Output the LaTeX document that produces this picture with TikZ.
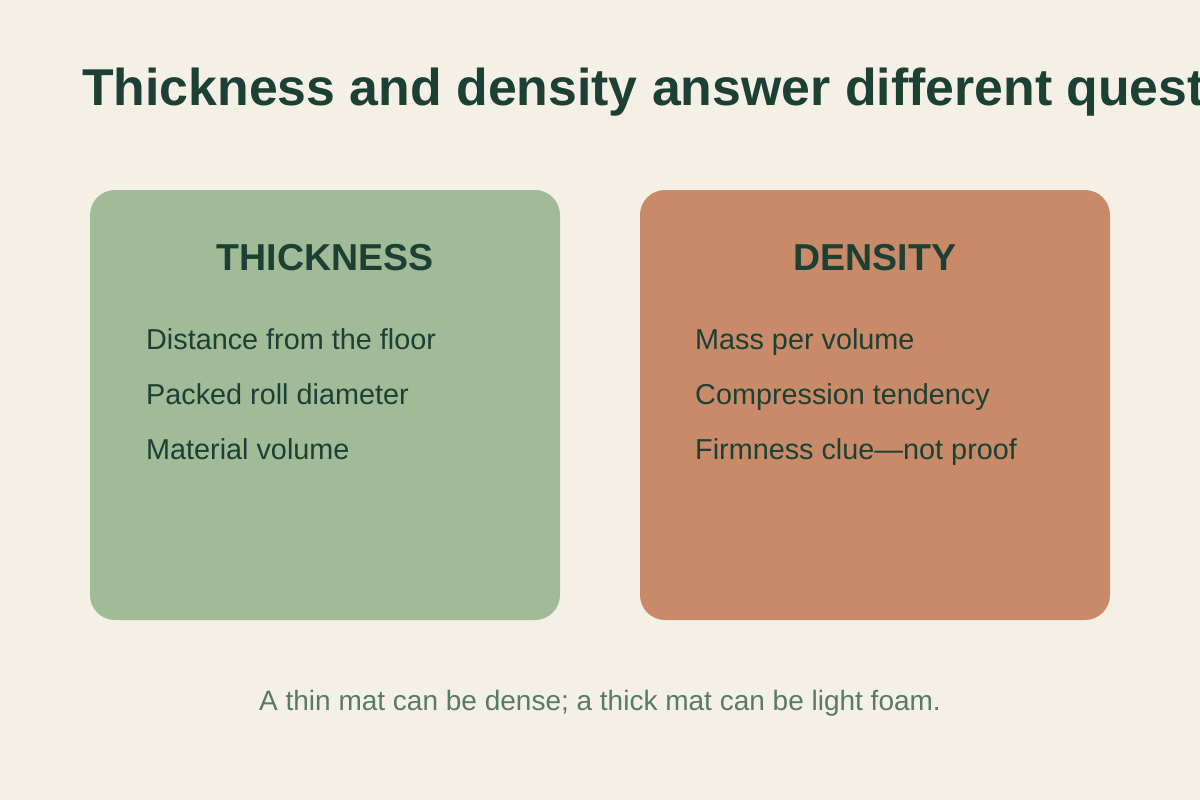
\documentclass[tikz,border=0pt]{standalone}
\usepackage{fontspec}
\setmainfont{Liberation Sans}
\definecolor{bg}{HTML}{F5F0E6}
\definecolor{ink}{HTML}{1C4033}
\definecolor{greenbox}{HTML}{A1BA98}
\definecolor{orangebox}{HTML}{C98A6A}
\definecolor{foot}{HTML}{587A68}
\tikzset{
  card/.style={rounded corners=25pt, inner sep=0pt},
  head/.style={anchor=base, text=ink, font=\fontsize{37.5}{40}\selectfont\bfseries, inner sep=0pt},
  item/.style={anchor=base west, text=ink, font=\fontsize{28.8}{32}\selectfont, inner sep=0pt},
}
\begin{document}
\begin{tikzpicture}[x=1pt,y=-1pt]
\useasboundingbox (0,0) rectangle (1200,800);
\clip (0,0) rectangle (1200,800);
\fill[bg] (0,0) rectangle (1200,800);
\node[anchor=base west, inner sep=0pt, text=ink, font=\fontsize{51.8}{56}\selectfont\bfseries] (title) at (82,105) {Thickness and density answer different questions};
\fill[greenbox, card] (90,190) rectangle (560,620);
\coordinate (lbox) at (325,190);
\fill[orangebox, card] (640,190) rectangle (1110,620);
\coordinate (rbox) at (875,190);
\node[head] (lh) at (325,270) {THICKNESS};
\node[item] (l1) at (146,349) {Distance from the floor};
\node[item] (l2) at (146,404) {Packed roll diameter};
\node[item] (l3) at (146,459) {Material volume};
\node[head] (rh) at (875,270) {DENSITY};
\node[item] (r1) at (695,349) {Mass per volume};
\node[item] (r2) at (695,404) {Compression tendency};
\node[item] (r3) at (695,459) {Firmness clue—not proof};
\node[anchor=base, inner sep=0pt, text=foot, font=\fontsize{28}{32}\selectfont] (footer) at (600,710) {A thin mat can be dense; a thick mat can be light foam.};
\end{tikzpicture}
\end{document}
